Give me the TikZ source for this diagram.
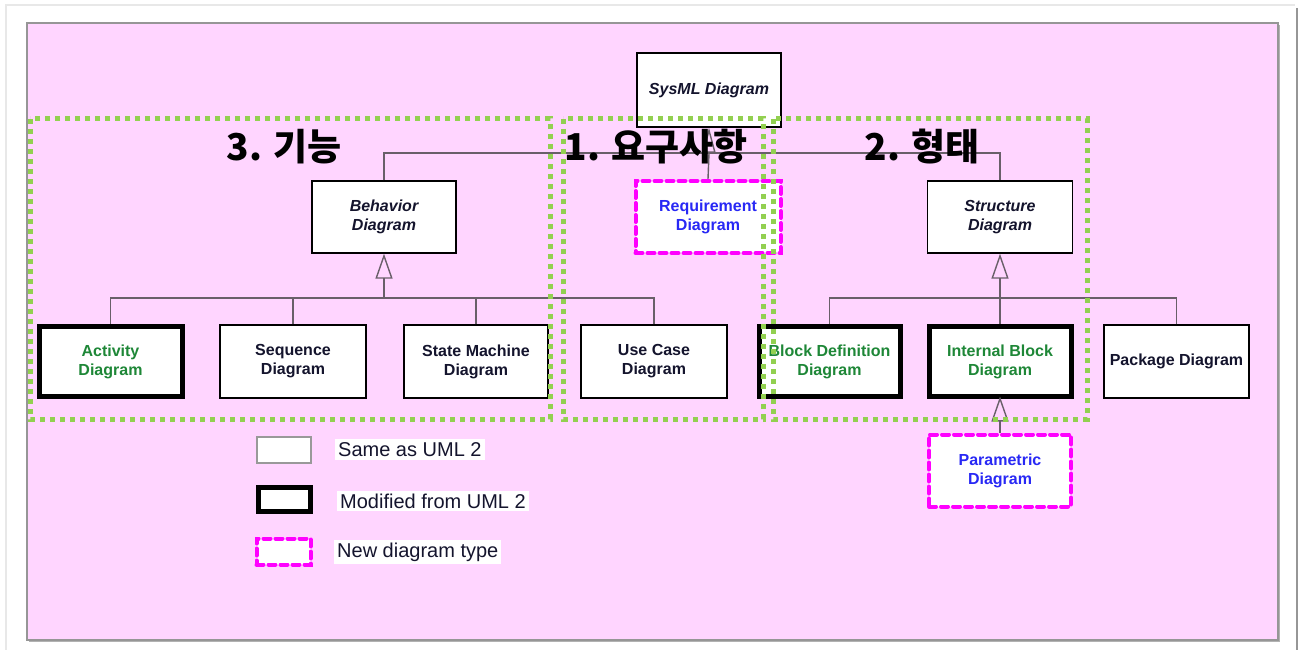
\documentclass[tikz,border=0pt]{standalone}
\usepackage{fontspec}
\setmainfont{Liberation Sans}
\newfontfamily\kr{Noto Sans CJK KR}
\usetikzlibrary{arrows.meta}
\definecolor{pinkbg}{RGB}{255,213,255}
\definecolor{grpgreen}{RGB}{146,208,80}
\definecolor{txtgreen}{RGB}{30,135,55}
\definecolor{txtblue}{RGB}{40,40,245}
\definecolor{mag}{RGB}{255,0,255}
\definecolor{connc}{RGB}{105,95,105}
\definecolor{txtdark}{RGB}{20,20,45}
\tikzset{
  diag/.style={draw=black, fill=white, line width=1.3pt, align=center, inner sep=0pt,
    font=\fontsize{16}{19}\selectfont\bfseries, text=txtdark},
  absdiag/.style={diag, font=\fontsize{16}{19}\selectfont\bfseries\itshape},
  modbox/.style={diag, line width=5pt, text=txtgreen},
  newbox/.style={diag, draw=mag, line width=4pt, dash pattern=on 7pt off 5pt, line cap=round, text=txtblue},
  conn/.style={draw=connc, line width=1.4pt},
  gen/.style={conn, -{Triangle[open, length=25pt, width=17pt, line width=1.4pt]}},
  gennarrow/.style={conn, -{Triangle[open, length=25pt, width=13pt, line width=1.4pt]}},
  grp/.style={draw=grpgreen, line width=5pt, dash pattern=on 5pt off 5pt},
  krlbl/.style={font=\kr\bfseries\fontsize{37}{40}\selectfont, text=black, inner sep=0pt},
  legtxt/.style={fill=white, inner sep=3pt, font=\fontsize{20}{23}\selectfont, text=txtdark}
}
\begin{document}
\begin{tikzpicture}[x=1pt,y=-1pt]
\useasboundingbox (0,0) rectangle (1303,650);
% page frame
\draw[draw={rgb,255:red,232;green,232;blue,232}, line width=2pt] (5,5) -- (1295,5);
\draw[draw={rgb,255:red,232;green,232;blue,232}, line width=2pt] (6,5) -- (6,650);
\draw[draw={rgb,255:red,150;green,150;blue,150}, line width=2pt] (1297,8) -- (1297,650);
\fill[gray!60] (29,25) rectangle (1280,642);
\draw[fill=pinkbg, draw={rgb,255:red,150;green,150;blue,150}, line width=1.5pt] (27,23) rectangle (1278,640);

% nodes
\node[absdiag, minimum width=144pt, minimum height=74pt] (sysml) at (709,90) {SysML Diagram};
\node[absdiag, minimum width=144pt, minimum height=72pt] (behavior) at (384,217) {Behavior\\Diagram};
\node[newbox, minimum width=145pt, minimum height=72pt] (req) at (708,217) {Requirement\\Diagram};
\node[absdiag, minimum width=145pt, minimum height=72pt] (structure) at (1000,217) {Structure\\Diagram};

\node[modbox, minimum width=143pt, minimum height=70pt] (activity) at (110.5,361.5) {Activity\\Diagram};
\node[diag, minimum width=146pt, minimum height=73pt] (sequence) at (293,361.5) {Sequence\\Diagram};
\node[diag, minimum width=144pt, minimum height=73pt] (statem) at (476,361.5) {State Machine\\Diagram};
\node[diag, minimum width=146pt, minimum height=73pt] (usecase) at (654,361.5) {Use Case\\Diagram};
\node[modbox, minimum width=141pt, minimum height=70pt] (bdd) at (829.5,361.5) {Block Definition\\Diagram};
\node[modbox, minimum width=142pt, minimum height=70pt] (ibd) at (1000,361.5) {Internal Block\\Diagram};
\node[diag, minimum width=145pt, minimum height=73pt] (package) at (1176.5,361.5) {Package Diagram};
\node[newbox, minimum width=142pt, minimum height=72pt] (param) at (1000,470.5) {Parametric\\Diagram};

% connectors
\coordinate (hubA) at (709,153);
\coordinate (hubB) at (384,298);
\coordinate (hubC) at (1000,298);
\draw[conn] (behavior.north) |- (hubA);
\draw[conn] (structure.north) |- (hubA);
\draw[conn] (req.north) -- (hubA);
\draw[gennarrow] (hubA) -- (sysml.south);

\draw[conn] (activity.north) |- (hubB);
\draw[conn] (usecase.north) |- (hubB);
\draw[conn] (sequence.north) -- (sequence.north |- hubB);
\draw[conn] (statem.north) -- (statem.north |- hubB);
\draw[gen] (hubB) -- (behavior.south);

\draw[conn] (bdd.north) |- (hubC);
\draw[conn] (package.north) |- (hubC);
\draw[conn] (ibd.north) -- (hubC);
\draw[gen] (hubC) -- (structure.south);

\draw[gen] (param.north) -- ([yshift=2.5pt]ibd.south);

% legend
\node[diag, draw=gray!80, line width=1.5pt, minimum width=54pt, minimum height=26pt] (legsame) at (284,450) {};
\node[modbox, minimum width=52pt, minimum height=24pt] (legmod) at (284,499) {};
\node[newbox, minimum width=54pt, minimum height=26pt] (legnew) at (283.5,551.5) {};
\node[legtxt, anchor=west] (legsamet) at (335,449.5) {Same as UML 2};
\node[legtxt, anchor=west] (legmodt) at (337,501) {Modified from UML 2};
\node[legtxt, anchor=west] (legnewt) at (334,552) {New diagram type};

% groups
\draw[grp] (30,119) rectangle (550,419);
\draw[grp] (563,119) rectangle (763,419);
\draw[grp] (773,119) rectangle (1087,419);

\node[krlbl] (lbl3) at (284,147) {3. 기능};
\node[krlbl] (lbl1) at (656,147) {1. 요구사항};
\node[krlbl] (lbl2) at (922,147) {2. 형태};
\end{tikzpicture}
\end{document}
